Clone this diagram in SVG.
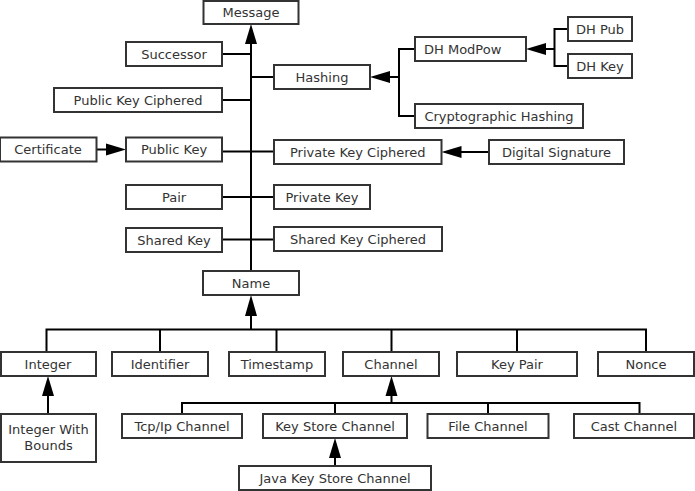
<svg xmlns="http://www.w3.org/2000/svg" width="695" height="491" viewBox="0 0 695 491">
<style>
.b{fill:#fff;stroke:#333;stroke-width:2}
.t{font-family:"DejaVu Sans",sans-serif;font-size:13px;fill:#333;text-anchor:middle}
.c line,.c polyline{stroke:#000;stroke-width:2;fill:none}
.c polygon{fill:#000;stroke:none}
</style>
<rect width="695" height="491" fill="#fff"/>
<g class="c" id="connectors">
<line x1="251" y1="271" x2="251" y2="43"/>
<polygon points="251,24 245,44 257,44"/>
<line x1="222" y1="54" x2="251" y2="54"/>
<line x1="251" y1="77" x2="274" y2="77"/>
<line x1="222" y1="100" x2="251" y2="100"/>
<line x1="222" y1="151.5" x2="274" y2="151.5"/>
<line x1="222" y1="197" x2="274" y2="197"/>
<line x1="222" y1="239.5" x2="274" y2="239.5"/>
<line x1="96.5" y1="149.5" x2="107" y2="149.5"/>
<polygon points="126,149.5 106,143.5 106,155.5"/>
<line x1="489" y1="152" x2="460" y2="152"/>
<polygon points="441.5,152 461.5,146 461.5,158"/>
<line x1="389" y1="77" x2="399" y2="77"/>
<polygon points="370,77 390,71 390,83"/>
<polyline points="415,49 399,49 399,116 415,116"/>
<line x1="545" y1="49" x2="554.5" y2="49"/>
<polygon points="526,49 546,43 546,55"/>
<polyline points="568,29 554.5,29 554.5,66 568,66"/>
<polygon points="251,295 245,316 257,316"/>
<line x1="251" y1="315" x2="251" y2="329.5"/>
<polyline points="46.5,352 46.5,329.5 646,329.5 646,352"/>
<line x1="160" y1="329.5" x2="160" y2="352"/>
<line x1="276.5" y1="329.5" x2="276.5" y2="352"/>
<line x1="391.5" y1="329.5" x2="391.5" y2="352"/>
<line x1="517" y1="329.5" x2="517" y2="352"/>
<polygon points="48,376 42,396 54,396"/>
<line x1="48" y1="395" x2="48" y2="414"/>
<polygon points="391.5,376 385.5,396 397.5,396"/>
<line x1="391.5" y1="395" x2="391.5" y2="403"/>
<polyline points="182,414 182,403 639.5,403 639.5,414"/>
<line x1="335" y1="403" x2="335" y2="414"/>
<line x1="488" y1="403" x2="488" y2="414"/>
<polygon points="335,438 329,458 341,458"/>
<line x1="335" y1="457" x2="335" y2="466"/>
</g>
<g id="message"><rect class="b" x="203.5" y="1" width="95" height="23"/><text class="t" x="251" y="17">Message</text></g>
<g id="successor"><rect class="b" x="126" y="42" width="96" height="24"/><text class="t" x="174" y="58.5">Successor</text></g>
<g id="hashing"><rect class="b" x="274" y="65" width="96" height="24"/><text class="t" x="322" y="81.5">Hashing</text></g>
<g id="publicKeyCiphered"><rect class="b" x="54" y="88" width="168" height="24"/><text class="t" x="138" y="104.5">Public Key Ciphered</text></g>
<g id="certificate"><rect class="b" x="0" y="137.5" width="96.5" height="24"/><text class="t" x="48" y="154">Certificate</text></g>
<g id="publicKey"><rect class="b" x="126" y="137.5" width="96" height="24"/><text class="t" x="174" y="154">Public Key</text></g>
<g id="privateKeyCiphered"><rect class="b" x="274" y="140" width="167.5" height="24"/><text class="t" x="357.8" y="156.5">Private Key Ciphered</text></g>
<g id="digitalSignature"><rect class="b" x="489" y="140" width="135" height="24"/><text class="t" x="556.5" y="156.5">Digital Signature</text></g>
<g id="dhModPow"><rect class="b" x="415" y="37" width="111" height="24"/><text class="t" x="462.7" y="53.5">DH ModPow</text></g>
<g id="dhPub"><rect class="b" x="568" y="17" width="64" height="24"/><text class="t" x="600" y="33.5">DH Pub</text></g>
<g id="dhKey"><rect class="b" x="568" y="54" width="64" height="24"/><text class="t" x="600" y="70.5">DH Key</text></g>
<g id="cryptographicHashing"><rect class="b" x="415" y="104" width="168" height="24"/><text class="t" x="499" y="120.5">Cryptographic Hashing</text></g>
<g id="pair"><rect class="b" x="126" y="185" width="96" height="24"/><text class="t" x="174" y="201.5">Pair</text></g>
<g id="privateKey"><rect class="b" x="274" y="185" width="96" height="24"/><text class="t" x="322" y="201.5">Private Key</text></g>
<g id="sharedKey"><rect class="b" x="126" y="228" width="96" height="24"/><text class="t" x="174" y="244.5">Shared Key</text></g>
<g id="sharedKeyCiphered"><rect class="b" x="274" y="227" width="168" height="24"/><text class="t" x="358" y="243.5">Shared Key Ciphered</text></g>
<g id="name"><rect class="b" x="203" y="271" width="96" height="24"/><text class="t" x="251" y="287.5">Name</text></g>
<g id="integer"><rect class="b" x="1" y="352" width="95" height="24"/><text class="t" x="48" y="368.5">Integer</text></g>
<g id="identifier"><rect class="b" x="112" y="352" width="96" height="24"/><text class="t" x="160" y="368.5">Identifier</text></g>
<g id="timestamp"><rect class="b" x="229" y="352" width="96" height="24"/><text class="t" x="277" y="368.5">Timestamp</text></g>
<g id="channel"><rect class="b" x="343" y="352" width="96" height="24"/><text class="t" x="391" y="368.5">Channel</text></g>
<g id="keyPair"><rect class="b" x="457" y="352" width="120" height="24"/><text class="t" x="517" y="368.5">Key Pair</text></g>
<g id="nonce"><rect class="b" x="598" y="352" width="96" height="24"/><text class="t" x="646" y="368.5">Nonce</text></g>
<g id="integerWithBounds"><rect class="b" x="1" y="414" width="95" height="48"/><text class="t" x="48.5" y="433.5">Integer With</text><text class="t" x="48.5" y="450">Bounds</text></g>
<g id="tcpIpChannel"><rect class="b" x="122" y="414" width="120" height="24"/><text class="t" x="182" y="430.5">Tcp/Ip Channel</text></g>
<g id="keyStoreChannel"><rect class="b" x="263" y="414" width="144" height="24"/><text class="t" x="335" y="430.5">Key Store Channel</text></g>
<g id="fileChannel"><rect class="b" x="427.5" y="414" width="121" height="24"/><text class="t" x="488" y="430.5">File Channel</text></g>
<g id="castChannel"><rect class="b" x="574" y="414" width="120" height="24"/><text class="t" x="634" y="430.5">Cast Channel</text></g>
<g id="javaKeyStoreChannel"><rect class="b" x="239" y="466" width="192" height="24"/><text class="t" x="335" y="482.5">Java Key Store Channel</text></g>
</svg>
